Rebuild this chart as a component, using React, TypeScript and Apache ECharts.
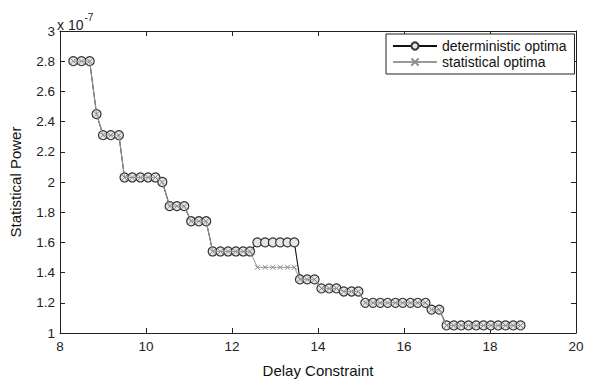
import React, { useEffect, useRef } from "react";
import * as echarts from "echarts";

const delayValues = [
  8.31, 8.5, 8.69, 8.85, 9.0, 9.18, 9.37, 9.5, 9.68, 9.87, 10.05, 10.22, 10.38,
  10.55, 10.72, 10.89, 11.05, 11.23, 11.4, 11.55, 11.73, 11.91, 12.09, 12.26,
  12.42, 12.59, 12.77, 12.95, 13.12, 13.29, 13.45, 13.58, 13.75, 13.92, 14.08,
  14.26, 14.43, 14.6, 14.78, 14.94, 15.1, 15.28, 15.45, 15.62, 15.8, 15.97,
  16.15, 16.32, 16.5, 16.64, 16.82, 16.99, 17.16, 17.33, 17.5, 17.68, 17.85,
  18.02, 18.19, 18.36, 18.54, 18.71,
];

const deterministicPower = [
  2.8, 2.8, 2.8, 2.45, 2.31, 2.31, 2.31, 2.03, 2.03, 2.03, 2.03, 2.03, 2.0,
  1.84, 1.84, 1.84, 1.74, 1.74, 1.74, 1.54, 1.54, 1.54, 1.54, 1.54, 1.54,
  1.6, 1.6, 1.6, 1.6, 1.6, 1.6, 1.355, 1.355, 1.355, 1.295, 1.295, 1.295,
  1.275, 1.275, 1.275, 1.2, 1.2, 1.2, 1.2, 1.2, 1.2, 1.2, 1.2, 1.2, 1.155,
  1.155, 1.05, 1.05, 1.05, 1.05, 1.05, 1.05, 1.05, 1.05, 1.05, 1.05, 1.05,
];

const statisticalPower = [
  2.8, 2.8, 2.8, 2.45, 2.31, 2.31, 2.31, 2.03, 2.03, 2.03, 2.03, 2.03, 2.0,
  1.84, 1.84, 1.84, 1.74, 1.74, 1.74, 1.54, 1.54, 1.54, 1.54, 1.54, 1.54,
  1.435, 1.435, 1.435, 1.435, 1.435, 1.435, 1.355, 1.355, 1.355, 1.295, 1.295,
  1.295, 1.275, 1.275, 1.275, 1.2, 1.2, 1.2, 1.2, 1.2, 1.2, 1.2, 1.2, 1.2,
  1.155, 1.155, 1.05, 1.05, 1.05, 1.05, 1.05, 1.05, 1.05, 1.05, 1.05, 1.05,
  1.05,
];

const seriesNames = ["deterministic optima", "statistical optima"];

const FONT = "Liberation Sans, Arial, sans-serif";
const AXIS_COLOR = "#222";

export default function App() {
  const ref = useRef<HTMLDivElement>(null);

  useEffect(() => {
    if (!ref.current) return;
    const chart = echarts.init(ref.current, undefined, { renderer: "svg" });

    const pairs = (ys: number[]) => delayValues.map((x, i) => [x, ys[i]]);

    const axisCommon = {
      axisLine: { show: true, lineStyle: { color: AXIS_COLOR, width: 1 } },
      axisTick: { show: true, inside: true, length: 5, lineStyle: { color: AXIS_COLOR } },
      splitLine: { show: false },
    };

    chart.setOption({
      animation: false,
      backgroundColor: "#fff",
      grid: { left: 58, top: 31, width: 518, height: 313, containLabel: false },
      xAxis: [
        {
          type: "value",
          min: 8,
          max: 20,
          interval: 2,
          position: "bottom",
          name: "Delay Constraint",
          nameLocation: "middle",
          nameGap: 30,
          nameTextStyle: { fontFamily: FONT, fontSize: 15, color: "#111" },
          axisLabel: { fontFamily: FONT, fontSize: 13.5, color: "#222", margin: 6 },
          ...axisCommon,
        },
        {
          type: "value",
          min: 8,
          max: 20,
          interval: 2,
          position: "top",
          axisLabel: { show: false },
          ...axisCommon,
        },
      ],
      yAxis: [
        {
          type: "value",
          min: 1,
          max: 3,
          interval: 0.2,
          position: "left",
          name: "Statistical Power",
          nameLocation: "middle",
          nameGap: 37,
          nameTextStyle: { fontFamily: FONT, fontSize: 15, color: "#111" },
          axisLabel: {
            fontFamily: FONT,
            fontSize: 13.5,
            color: "#222",
            margin: 5,
            formatter: (v: number) => String(Math.round(v * 10) / 10),
          },
          ...axisCommon,
        },
        {
          type: "value",
          min: 1,
          max: 3,
          interval: 0.2,
          position: "right",
          axisLabel: { show: false },
          ...axisCommon,
        },
      ],
      legend: {
        left: 386,
        top: 34,
        orient: "vertical",
        backgroundColor: "#fff",
        borderColor: "#222",
        borderWidth: 1,
        padding: [5, 8, 5, 6],
        itemGap: 2,
        itemWidth: 44,
        itemHeight: 9,
        textStyle: { fontFamily: FONT, fontSize: 14, color: "#111" },
        data: seriesNames,
      },
      graphic: [
        {
          type: "text",
          left: 57,
          top: 12,
          style: {
            text: "{b|x 10}{s|-7}",
            rich: {
              b: { fontFamily: FONT, fontSize: 14, fill: "#222", verticalAlign: "bottom", padding: [6, 0, 0, 0] },
              s: { fontFamily: FONT, fontSize: 10, fill: "#222", verticalAlign: "top", padding: [0, 0, 6, 1] },
            },
          },
        },
      ],
      series: [
        {
          name: seriesNames[0],
          type: "line",
          data: pairs(deterministicPower),
          symbol: "circle",
          symbolSize: 9,
          showAllSymbol: true,
          lineStyle: { color: "#111", width: 1.1 },
          itemStyle: { color: "#e6e6e6", borderColor: "#333", borderWidth: 1.2 },
          z: 2,
        },
        {
          name: seriesNames[1],
          type: "line",
          data: pairs(statisticalPower),
          symbol: "path://M0,0L10,10M10,0L0,10",
          symbolSize: 5,
          showAllSymbol: true,
          lineStyle: { color: "#999", width: 1 },
          itemStyle: { color: "none", borderColor: "#8a8a8a", borderWidth: 1 },
          z: 3,
        },
      ],
    });

    return () => chart.dispose();
  }, []);

  return <div ref={ref} style={{ width: 592, height: 383, position: "absolute", left: 0, top: 0 }} />;
}
